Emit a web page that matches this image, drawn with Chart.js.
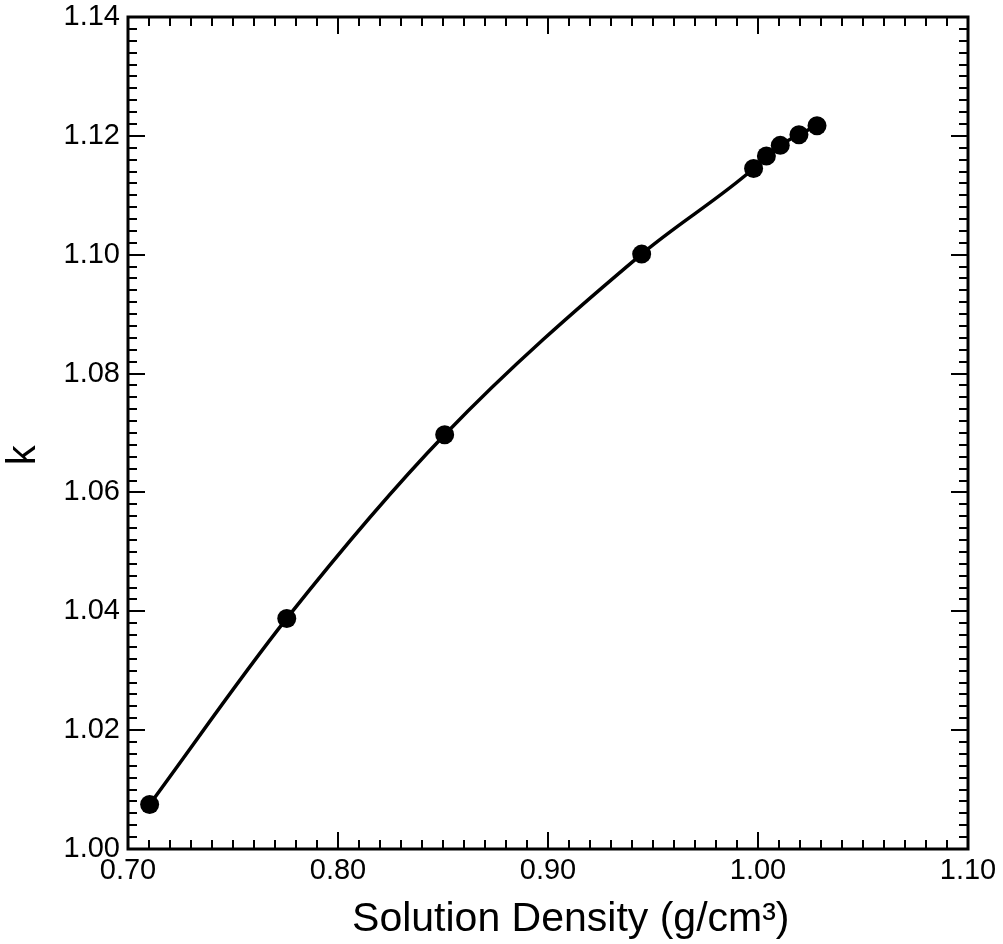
<!DOCTYPE html>
<html>
<head>
<meta charset="utf-8">
<script src="https://cdn.jsdelivr.net/npm/chart.js@4/dist/chart.umd.min.js"></script>
<style>
  html, body { margin: 0; padding: 0; background: #fff; }
  #wrap { width: 1003px; height: 944px; }
</style>
</head>
<body>
<div id="wrap"><canvas id="c" width="1003" height="944"></canvas></div>
<script>
// Solution density (g/cm3)
const densities = [0.7103, 0.7756, 0.8508, 0.9446, 0.9979, 1.0040, 1.0106, 1.0195, 1.0281];
// k values
const kValues = [1.0075, 1.0388, 1.0697, 1.1001, 1.1145, 1.1166, 1.1184, 1.1202, 1.1217];
// tick labels
const xTickLabels = ['0.70', '0.80', '0.90', '1.00', '1.10'];
const yTickLabels = ['1.00', '1.02', '1.04', '1.06', '1.08', '1.10', '1.12', '1.14'];
const xMinorStep = 0.01;
const yMinorStep = 0.002;

const FONT = 'Liberation Sans, Arial, Helvetica, sans-serif';

const frameTicks = {
  id: 'frameTicks',
  afterDatasetsDraw(chart) {
    const { ctx, chartArea: a, scales: { x, y } } = chart;
    ctx.save();
    ctx.strokeStyle = '#000';
    ctx.lineCap = 'butt';
    ctx.lineWidth = 2;
    const nx = Math.round((x.max - x.min) / xMinorStep);
    for (let i = 0; i <= nx; i++) {
      const v = x.min + i * xMinorStep;
      const px = Math.round(x.getPixelForValue(v));
      const len = (i % 10 === 0) ? 17 : 9;
      ctx.beginPath();
      ctx.moveTo(px, a.bottom); ctx.lineTo(px, a.bottom - len);
      ctx.moveTo(px, a.top); ctx.lineTo(px, a.top + len);
      ctx.stroke();
    }
    const ny = Math.round((y.max - y.min) / yMinorStep);
    for (let i = 0; i <= ny; i++) {
      const v = y.min + i * yMinorStep;
      const py = Math.round(y.getPixelForValue(v));
      const len = (i % 10 === 0) ? 17 : 9;
      ctx.beginPath();
      ctx.moveTo(a.left, py); ctx.lineTo(a.left + len, py);
      ctx.moveTo(a.right, py); ctx.lineTo(a.right - len, py);
      ctx.stroke();
    }
    ctx.lineWidth = 3;
    ctx.strokeRect(a.left, a.top, a.right - a.left, a.bottom - a.top);
    ctx.restore();
  }
};

new Chart(document.getElementById('c'), {
  type: 'line',
  data: {
    datasets: [{
      data: densities.map((d, i) => ({ x: d, y: kValues[i] })),
      borderColor: '#000',
      backgroundColor: '#000',
      borderWidth: 3.5,
      pointRadius: 9.5,
      pointBorderWidth: 0,
      pointBackgroundColor: '#000',
      cubicInterpolationMode: 'monotone',
      fill: false,
      clip: false
    }]
  },
  options: {
    responsive: false,
    animation: false,
    devicePixelRatio: 1,
    layout: { padding: { top: 17, right: 35, left: 0, bottom: 0 } },
    plugins: {
      legend: { display: false },
      tooltip: { enabled: false }
    },
    scales: {
      x: {
        type: 'linear',
        min: 0.70,
        max: 1.10,
        afterBuildTicks(scale) {
          scale.ticks = xTickLabels.map(t => ({ value: parseFloat(t) }));
        },
        afterFit(scale) {
          scale.height = 95;
          scale.paddingLeft = 0; scale.paddingRight = 0;
        },
        ticks: {
          color: '#000',
          font: { family: FONT, size: 29 },
          padding: 5,
          maxRotation: 0,
          autoSkip: false,
          callback: (v) => xTickLabels.find(t => Math.abs(parseFloat(t) - v) < 1e-6) || ''
        },
        grid: { display: false, drawTicks: false },
        border: { display: false },
        title: {
          display: true,
          text: '    Solution Density (g/cm³)',
          color: '#000',
          font: { family: FONT, size: 41 },
          padding: { top: 2, bottom: 0 }
        }
      },
      y: {
        type: 'linear',
        min: 1.00,
        max: 1.14,
        afterBuildTicks(scale) {
          scale.ticks = yTickLabels.map(t => ({ value: parseFloat(t) }));
        },
        afterFit(scale) {
          scale.width = 128;
          scale.paddingTop = 0; scale.paddingBottom = 0;
        },
        ticks: {
          color: '#000',
          font: { family: FONT, size: 29 },
          padding: 8,
          autoSkip: false,
          callback: (v) => yTickLabels.find(t => Math.abs(parseFloat(t) - v) < 1e-6) || ''
        },
        grid: { display: false, drawTicks: false },
        border: { display: false },
        title: {
          display: true,
          text: 'k    ',
          color: '#000',
          font: { family: FONT, size: 40 },
          padding: 0
        }
      }
    }
  },
  plugins: [frameTicks]
});
</script>
</body>
</html>
